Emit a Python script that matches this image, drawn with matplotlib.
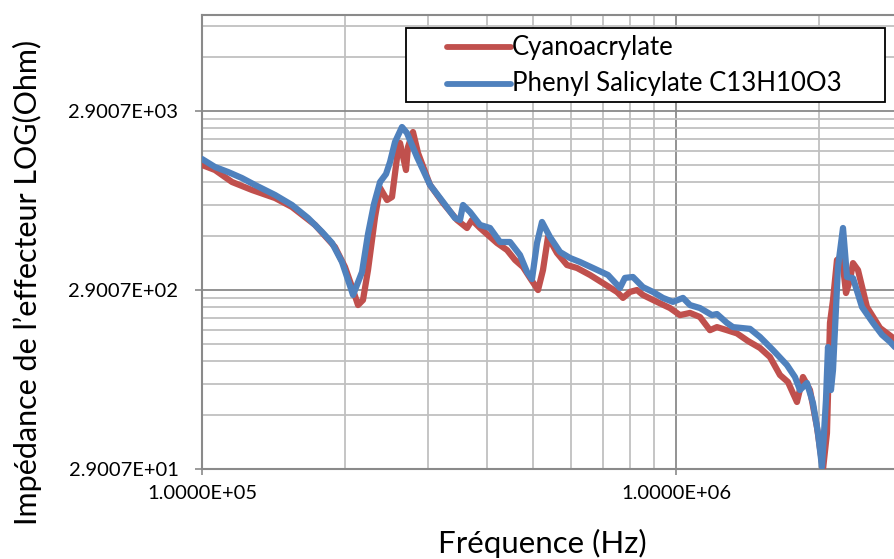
import numpy as np
import matplotlib
matplotlib.use("Agg")
import matplotlib.pyplot as plt
from matplotlib.ticker import FixedLocator, FixedFormatter, NullFormatter

plt.rcParams['font.family'] = ['Lato', 'DejaVu Sans']

# frequency (kHz) and impedance (Ohm) for each sample
cyano_khz = [100.0, 106.5, 115.7, 127.5, 142.6, 154.8, 173.2, 190.8, 200.3, 207.3,
             213.4, 218.6, 224.0, 231.8, 237.5, 245.7, 251.7, 259.1, 261.7, 269.4,
             272.0, 278.7, 285.6, 302.8, 322.5, 345.2, 362.3, 371.2, 386.0, 419.2,
             440.1, 457.5, 475.6, 492.1, 511.6, 524.1, 537.0, 561.0, 589.0, 618.3,
             658.5, 701.4, 750.7, 772.9, 799.6, 827.3, 851.8, 911.7, 971.3, 1019.6,
             1070.4, 1123.6, 1179.5, 1220.3, 1281.0, 1344.8, 1418.9, 1504.1, 1578.6, 1657.3,
             1723.0, 1799.8, 1853.1, 1917.3, 1983.5, 2042.4, 2082.4, 2113.0, 2144.3, 2186.3,
             2240.1, 2284.1, 2328.9, 2363.1, 2421.2, 2529.2, 2694.3, 2856.0, 2897.9]
cyano_ohm = [1449, 1358, 1164, 1050, 947, 844, 670, 504, 390, 301,
             239, 255, 375, 742, 1078, 923, 960, 1756, 1922, 1358,
             1825, 2214, 1690, 1120, 888, 714, 644, 714, 644, 531,
             485, 427, 390, 339, 290, 375, 574, 467, 400, 385,
             352, 317, 283, 262, 283, 290, 272, 249, 230, 210,
             216, 205, 173, 180, 173, 166, 150.5, 137.6, 122.5, 97.2,
             88.8, 68.7, 94.7, 80.1, 49.8, 28.8, 46.1, 190, 255, 427,
             444, 279, 330, 410, 375, 233, 178, 158.5, 152]

phenyl_khz = [100.0, 106.5, 113.5, 121.4, 129.4, 142.6, 154.8, 167.4, 179.2, 188.1,
              197.4, 203.3, 208.3, 217.6, 224.0, 230.6, 237.5, 244.5, 249.3, 255.4,
              264.2, 270.7, 284.2, 302.8, 322.5, 341.8, 350.2, 355.4, 367.7, 386.0,
              405.2, 425.3, 446.5, 468.7, 485.0, 496.9, 509.1, 521.6, 542.2, 569.3,
              597.6, 627.3, 668.2, 718.6, 761.7, 780.4, 811.3, 851.8, 894.2, 938.6,
              985.5, 1034.6, 1070.4, 1123.6, 1191.0, 1220.3, 1281.0, 1318.9, 1432.8, 1504.1,
              1601.8, 1714.6, 1782.5, 1826.3, 1889.5, 1945.4, 1993.2, 2032.7, 2072.3, 2092.8,
              2123.2, 2144.3, 2197.0, 2251.0, 2295.2, 2363.1, 2468.7, 2604.2, 2720.6, 2828.4,
              2897.9]
phenyl_ohm = [1565, 1412, 1324, 1225, 1120, 985, 866, 732, 612, 531,
              416, 330, 272, 366, 596, 877, 1164, 1290, 1506, 1947,
              2361, 2185, 1605, 1120, 900, 732, 714, 866, 791, 670,
              644, 538, 538, 455, 366, 334, 531, 696, 574, 473,
              438, 416, 385, 352, 298, 339, 343, 301, 283, 262,
              249, 262, 239, 230, 210, 213, 190, 180, 176, 158.5,
              134, 110.5, 94.7, 80.1, 87.7, 67.8, 46.1, 29.8, 70.4, 139.3,
              80.1, 103.6, 390, 644, 343, 338, 233, 190, 163, 149,
              139]

y_base = [29.007, 290.07, 2900.7]
y_ticklabels = ['2.9007E+01', '2.9007E+02', '2.9007E+03']
x_base = [1e5, 1e6]
x_ticklabels = ['1.0000E+05', '1.0000E+06']

RED = '#C0504D'
BLUE = '#4F81BD'
GRID_MAJOR = '#8A8A8A'
GRID_MINOR = '#C0C0C0'

W, H = 895, 559
fig = plt.figure(figsize=(W / 100, H / 100), dpi=100)
ax = fig.add_axes([202 / W, (H - 469) / H, (W - 202) / W, (469 - 15) / H])

ax.plot(np.array(cyano_khz) * 1e3, cyano_ohm, color=RED, lw=4.5,
        solid_joinstyle='round', solid_capstyle='round', zorder=3)
ax.plot(np.array(phenyl_khz) * 1e3, phenyl_ohm, color=BLUE, lw=4.5,
        solid_joinstyle='round', solid_capstyle='round', zorder=4)

ax.set_xscale('log')
ax.set_yscale('log')
ax.set_xlim(1e5, 2.898e6)
ax.set_ylim(29.007, 9975)

ax.yaxis.set_major_locator(FixedLocator(y_base))
ax.yaxis.set_major_formatter(FixedFormatter(y_ticklabels))
ax.yaxis.set_minor_locator(FixedLocator([k * b for b in y_base for k in range(2, 10)]))
ax.yaxis.set_minor_formatter(NullFormatter())
ax.xaxis.set_major_locator(FixedLocator(x_base))
ax.xaxis.set_major_formatter(FixedFormatter(x_ticklabels))
ax.xaxis.set_minor_locator(FixedLocator([k * b for b in x_base for k in range(2, 10)]))
ax.xaxis.set_minor_formatter(NullFormatter())

ax.set_axisbelow(True)
ax.grid(which='major', color=GRID_MAJOR, lw=1.3)
ax.grid(which='minor', color=GRID_MINOR, lw=1.3)

for side in ('left', 'bottom', 'top'):
    ax.spines[side].set_color(GRID_MAJOR)
    ax.spines[side].set_linewidth(1.5)
ax.spines['right'].set_visible(False)

ax.tick_params(which='major', axis='y', direction='out', length=5, width=1.2,
               color=GRID_MAJOR, pad=12, labelsize=14.5, labelcolor='black')
ax.tick_params(which='major', axis='x', direction='out', length=4.5, width=1.2,
               color=GRID_MAJOR, pad=7, labelsize=14.5, labelcolor='black')
ax.tick_params(which='minor', length=0)

# legend box drawn by hand, in axes fractions
def px_x(x):
    return (x - 202) / (W - 202)

def px_y(y):
    return (469 - y) / (469 - 15)

box = plt.Rectangle((px_x(406), px_y(102)), px_x(885) - px_x(406), px_y(28) - px_y(102),
                    transform=ax.transAxes, facecolor='white', edgecolor='black',
                    lw=1.3, zorder=6, clip_on=False)
ax.add_patch(box)
for label, color, y in [('Cyanoacrylate', RED, 47), ('Phenyl Salicylate C13H10O3', BLUE, 84)]:
    ax.plot([px_x(447), px_x(511)], [px_y(y), px_y(y)], transform=ax.transAxes,
            color=color, lw=4.2, solid_capstyle='round', zorder=7, clip_on=False)
    ax.text(px_x(512), px_y(y), label, transform=ax.transAxes, fontsize=18.5,
            va='center', ha='left', zorder=8)

fig.text(27 / W, 1 - 282 / H, 'Impédance de l’effecteur LOG(Ohm)', rotation=90,
         fontsize=22, ha='center', va='center')
fig.text(542 / W, 1 - 543 / H, 'Fréquence (Hz)', fontsize=22.5, ha='center', va='center')

fig.savefig('out.png', dpi=100)
